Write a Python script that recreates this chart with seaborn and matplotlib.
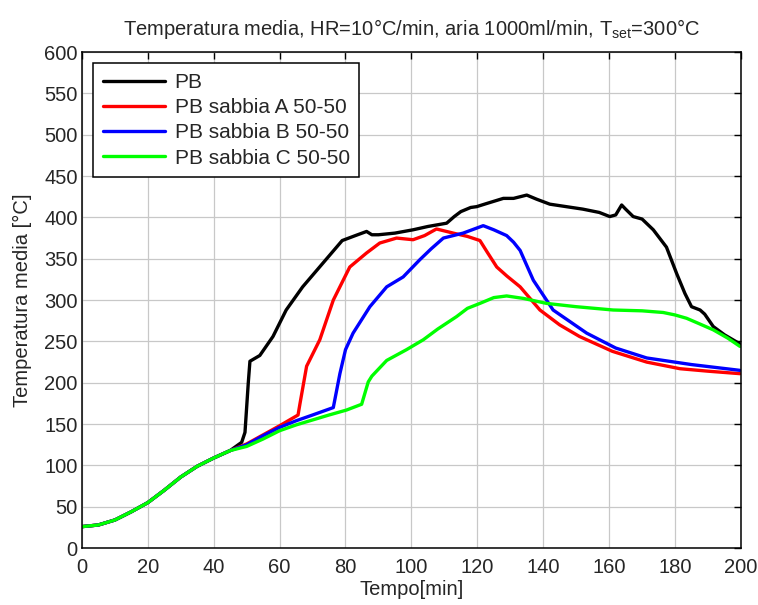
import numpy as np
import pandas as pd
import matplotlib
matplotlib.use("Agg")
import matplotlib.pyplot as plt
import seaborn as sns

# ---- data ----
series_names = ["PB", "PB sabbia A 50-50", "PB sabbia B 50-50", "PB sabbia C 50-50"]
series_colors = ["#000000", "#ff0000", "#0000ff", "#00ff00"]

t_common = [0, 5, 10, 15, 20, 25, 30, 35, 40, 45]
y_common = [26, 28, 34, 44, 55, 70, 86, 99, 109, 118]

pb_t = t_common + [48.5, 49.5, 50.5, 51, 54, 58, 62, 67, 73, 79, 83, 86.4, 88, 90, 95, 100.5, 105, 110.7,
                   113, 115, 118, 119.8, 123, 127.9, 131, 135, 138, 142, 147, 152, 157, 160.2, 162, 163.8,
                   165, 167.3, 170, 173.4, 177.4, 180.5, 183, 185, 187.6, 189, 191.6, 195, 199.7]
pb_y = y_common + [128, 140, 200, 226, 233, 256, 288, 316, 344, 372, 378, 383, 379, 379, 381, 385, 389, 393,
                   401, 407, 412, 413, 417, 423, 423, 427, 422, 416, 413, 410, 406, 401, 403, 415,
                   410, 401, 398, 385, 364, 332, 308, 292, 288, 283, 268, 258, 247]

a_t = t_common + [50, 55, 60, 65.6, 66.2, 68.2, 72.2, 76.3, 81.3, 86.4, 90.4, 95.5, 100.5, 104, 107.6, 112.7,
                  117, 120.8, 123, 125.9, 129, 133, 139, 145, 151, 161, 171.4, 181.5, 190, 199.7]
a_y = y_common + [126, 137, 148, 161, 175, 220, 252, 300, 340, 357, 369, 375, 373, 378, 386, 381,
                  377, 372, 358, 340, 329, 316, 288, 270, 256, 238, 225, 217, 214, 211]

b_t = t_common + [50, 55, 60, 65, 70, 76.3, 78.3, 80, 82.3, 87.4, 92.5, 97.5, 102.6, 106, 109.7, 115.7,
                  121.8, 125, 128.9, 131, 133, 137, 143, 153.2, 162, 171.4, 185, 199.7]
b_y = y_common + [125, 136, 146, 154, 161, 170, 211, 240, 260, 292, 316, 328, 349, 362, 375, 381,
                  390, 385, 378, 370, 360, 324, 288, 260, 242, 230, 222, 215]

c_t = t_common + [50, 55, 60, 65, 70, 75, 80.3, 84.9, 86.9, 88, 92.5, 98.5, 103.6, 108, 113.7, 117, 120.8,
                  125, 128.9, 134, 141, 150, 161.2, 170, 176.4, 180, 183.5, 187, 191.6, 196, 199.7]
c_y = y_common + [123, 132, 142, 149, 155, 161, 167, 174, 201, 208, 227, 240, 252, 265, 280, 290, 296,
                  303, 305, 302, 296, 292, 288, 287, 285, 282, 278, 272, 264, 254, 244]

xticks = list(range(0, 201, 20))
yticks = list(range(0, 601, 50))

# ---- build long table ----
frames = []
for name, t, y in zip(series_names, [pb_t, a_t, b_t, c_t], [pb_y, a_y, b_y, c_y]):
    frames.append(pd.DataFrame({"Tempo": t, "Temp": y, "Serie": name}))
df = pd.concat(frames, ignore_index=True)

sns.set_style("white")
plt.rcParams["font.family"] = ["Liberation Sans", "DejaVu Sans"]
plt.rcParams["mathtext.fontset"] = "custom"
plt.rcParams["mathtext.rm"] = "Liberation Sans"

fig = plt.figure(figsize=(7.58, 6.05), dpi=100)
ax = fig.add_axes([0.108, 0.094, 0.8695, 0.82])

sns.lineplot(data=df, x="Tempo", y="Temp", hue="Serie", hue_order=series_names,
             palette=dict(zip(series_names, series_colors)), sort=False, estimator=None,
             linewidth=2.4, ax=ax)

ax.set_xlim(0, 200)
ax.set_ylim(0, 600)
ax.set_xticks(xticks)
ax.set_yticks(yticks)
ax.grid(True, color="#c8c8c8", linewidth=0.9)
ax.tick_params(direction="in", length=5, top=True, right=True, labelsize=14.5, width=1, color="black", pad=3)
ax.tick_params(axis="x", pad=7)
for s in ax.spines.values():
    s.set_color("black")
    s.set_linewidth(1.1)
    s.set_visible(True)

ax.set_xlabel("Tempo[min]", fontsize=14.5, labelpad=2)
ax.set_ylabel("Temperatura media [°C]", fontsize=14.5, labelpad=9)
ax.set_title(r"Temperatura media, HR=10°C/min, aria 1000ml/min, T$_{\rm set}$=300°C", fontsize=14.5, pad=12)

leg = ax.legend(loc="upper left", fontsize=15, frameon=True, fancybox=False, edgecolor="black",
                borderpad=0.45, handlelength=3.0, labelspacing=0.3, borderaxespad=0.55, handletextpad=0.45)
leg.get_frame().set_linewidth(1.1)
leg.get_frame().set_alpha(1)

fig.savefig("out.png", dpi=100)
